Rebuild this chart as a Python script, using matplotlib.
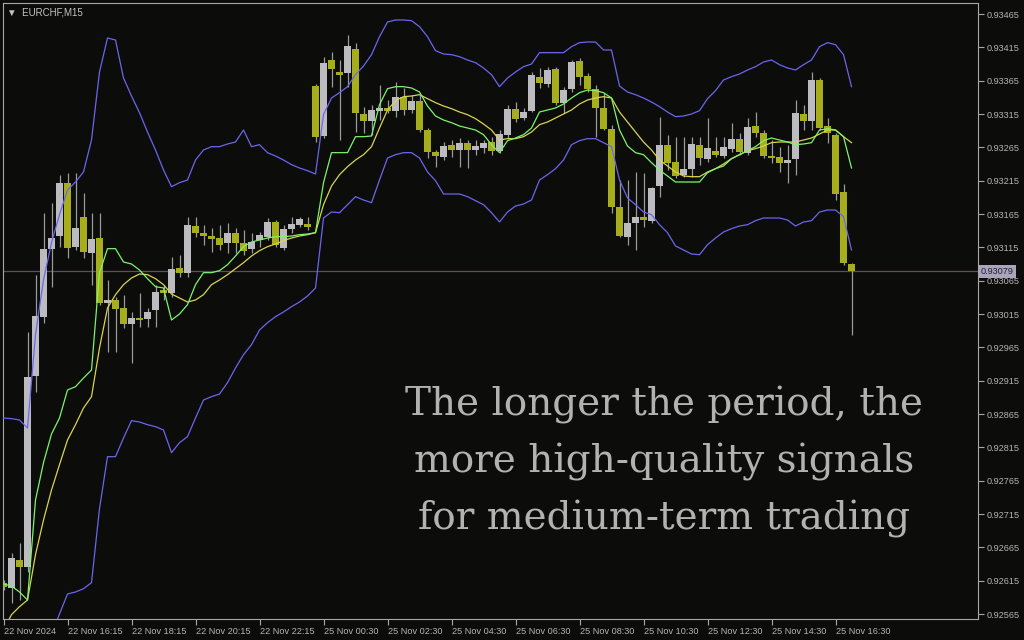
import matplotlib
matplotlib.use("Agg")
import matplotlib.pylab as plt
import matplotlib.transforms as mtransforms
import numpy as np

# EURCHF M15 candles (bar 0 = 22 Nov 14:15)
opens = [0.92612, 0.92604, 0.92646, 0.92636, 0.92922, 0.93011, 0.93113, 0.93132, 0.93212, 0.93116,
         0.93161, 0.93107, 0.93129, 0.93032, 0.93036, 0.93024, 0.93000, 0.93009, 0.93008, 0.93021,
         0.93051, 0.93047, 0.93084, 0.93077, 0.93147, 0.93137, 0.93132, 0.93129, 0.93122, 0.93137,
         0.93122, 0.93113, 0.93126, 0.93131, 0.93153, 0.93114, 0.93143, 0.93149, 0.93150, 0.93357,
         0.93282, 0.93396, 0.93378, 0.93377, 0.93413, 0.93315, 0.93305, 0.93320, 0.93324, 0.93320,
         0.93341, 0.93321, 0.93335, 0.93291, 0.93258, 0.93251, 0.93269, 0.93261, 0.93272, 0.93261,
         0.93264, 0.93273, 0.93260, 0.93284, 0.93323, 0.93309, 0.93320, 0.93371, 0.93360, 0.93383,
         0.93332, 0.93353, 0.93395, 0.93372, 0.93353, 0.93324, 0.93293, 0.93176, 0.93131, 0.93152,
         0.93161, 0.93155, 0.93207, 0.93269, 0.93243, 0.93224, 0.93233, 0.93269, 0.93248, 0.93260,
         0.93252, 0.93263, 0.93278, 0.93257, 0.93297, 0.93287, 0.93252, 0.93251, 0.93242, 0.93248,
         0.93315, 0.93305, 0.93366, 0.93297, 0.93284, 0.93198, 0.93090]
highs = [0.92616, 0.92657, 0.92672, 0.92988, 0.93074, 0.93167, 0.93182, 0.93224, 0.93227, 0.93227,
         0.93197, 0.93167, 0.93167, 0.93066, 0.93041, 0.93044, 0.93018, 0.93047, 0.93024, 0.93059,
         0.93059, 0.93101, 0.93104, 0.93161, 0.93161, 0.93149, 0.93144, 0.93149, 0.93152, 0.93144,
         0.93141, 0.93137, 0.93138, 0.93159, 0.93156, 0.93149, 0.93161, 0.93161, 0.93161, 0.93360,
         0.93401, 0.93408, 0.93396, 0.93434, 0.93422, 0.93326, 0.93329, 0.93359, 0.93336, 0.93363,
         0.93354, 0.93344, 0.93344, 0.93294, 0.93261, 0.93273, 0.93276, 0.93279, 0.93276, 0.93276,
         0.93276, 0.93281, 0.93291, 0.93329, 0.93333, 0.93324, 0.93378, 0.93384, 0.93386, 0.93386,
         0.93356, 0.93396, 0.93399, 0.93377, 0.93359, 0.93347, 0.93299, 0.93216, 0.93216, 0.93228,
         0.93227, 0.93206, 0.93311, 0.93284, 0.93281, 0.93281, 0.93281, 0.93281, 0.93309, 0.93281,
         0.93281, 0.93302, 0.93287, 0.93309, 0.93318, 0.93291, 0.93276, 0.93266, 0.93269, 0.93336,
         0.93329, 0.93378, 0.93369, 0.93309, 0.93287, 0.93210, 0.93092]
lows = [0.92601, 0.92582, 0.92586, 0.92628, 0.92898, 0.93002, 0.93056, 0.93116, 0.93099, 0.93111,
        0.93099, 0.93059, 0.93029, 0.92958, 0.92958, 0.92994, 0.92942, 0.92996, 0.92996, 0.92996,
        0.93036, 0.93041, 0.93071, 0.93071, 0.93131, 0.93119, 0.93108, 0.93111, 0.93107, 0.93107,
        0.93104, 0.93107, 0.93116, 0.93126, 0.93116, 0.93111, 0.93137, 0.93146, 0.93141, 0.93273,
        0.93279, 0.93356, 0.93276, 0.93356, 0.93288, 0.93287, 0.93284, 0.93306, 0.93317, 0.93311,
        0.93314, 0.93317, 0.93288, 0.93249, 0.93236, 0.93246, 0.93251, 0.93236, 0.93234, 0.93254,
        0.93257, 0.93254, 0.93257, 0.93279, 0.93303, 0.93306, 0.93318, 0.93354, 0.93356, 0.93329,
        0.93317, 0.93348, 0.93359, 0.93348, 0.93281, 0.93291, 0.93167, 0.93131, 0.93119, 0.93111,
        0.93146, 0.93152, 0.93191, 0.93231, 0.93219, 0.93221, 0.93221, 0.93239, 0.93243, 0.93251,
        0.93249, 0.93258, 0.93254, 0.93254, 0.93281, 0.93249, 0.93242, 0.93228, 0.93212, 0.93224,
        0.93291, 0.93291, 0.93291, 0.93272, 0.93186, 0.93089, 0.92984]
closes = [0.92606, 0.92649, 0.92636, 0.92921, 0.93012, 0.93113, 0.93129, 0.93212, 0.93114, 0.93144,
          0.93108, 0.93128, 0.93032, 0.93036, 0.93023, 0.93000, 0.93009, 0.93006, 0.93018, 0.93048,
          0.93047, 0.93083, 0.93077, 0.93149, 0.93137, 0.93132, 0.93128, 0.93119, 0.93137, 0.93122,
          0.93110, 0.93123, 0.93134, 0.93153, 0.93119, 0.93143, 0.93150, 0.93158, 0.93146, 0.93281,
          0.93392, 0.93383, 0.93374, 0.93417, 0.93317, 0.93305, 0.93321, 0.93324, 0.93320, 0.93341,
          0.93321, 0.93335, 0.93291, 0.93258, 0.93252, 0.93267, 0.93261, 0.93272, 0.93261, 0.93267,
          0.93272, 0.93260, 0.93285, 0.93323, 0.93308, 0.93318, 0.93374, 0.93362, 0.93381, 0.93332,
          0.93351, 0.93393, 0.93371, 0.93353, 0.93324, 0.93293, 0.93176, 0.93132, 0.93152, 0.93161,
          0.93156, 0.93204, 0.93269, 0.93242, 0.93222, 0.93233, 0.93270, 0.93249, 0.93264, 0.93254,
          0.93266, 0.93278, 0.93258, 0.93296, 0.93287, 0.93252, 0.93249, 0.93242, 0.93246, 0.93317,
          0.93305, 0.93366, 0.93294, 0.93287, 0.93195, 0.93092, 0.93079]

# indicator lines, one value per bar
band_upper = [0.92859, 0.92858, 0.92856, 0.92844, 0.92984, 0.93066, 0.93122, 0.93164, 0.93201, 0.93213,
              0.93228, 0.93276, 0.93378, 0.93429, 0.93426, 0.93369, 0.93342, 0.93317, 0.93288, 0.93261,
              0.93231, 0.93206, 0.93212, 0.93216, 0.93246, 0.93261, 0.93266, 0.93266, 0.93270, 0.93273,
              0.93291, 0.93266, 0.93269, 0.93257, 0.93252, 0.93246, 0.93239, 0.93234, 0.93230, 0.93225,
              0.93314, 0.93339, 0.93347, 0.93356, 0.93374, 0.93387, 0.93404, 0.93431, 0.93453, 0.93456,
              0.93456, 0.93455, 0.93446, 0.93431, 0.93410, 0.93405, 0.93404, 0.93401, 0.93396, 0.93392,
              0.93384, 0.93374, 0.93356, 0.93369, 0.93378, 0.93386, 0.93390, 0.93407, 0.93407, 0.93407,
              0.93407, 0.93416, 0.93422, 0.93423, 0.93423, 0.93411, 0.93411, 0.93357, 0.93348, 0.93344,
              0.93339, 0.93333, 0.93326, 0.93318, 0.93311, 0.93312, 0.93315, 0.93320, 0.93338, 0.93350,
              0.93366, 0.93371, 0.93375, 0.93381, 0.93386, 0.93393, 0.93396, 0.93389, 0.93384, 0.93381,
              0.93389, 0.93396, 0.93416, 0.93422, 0.93419, 0.93404, 0.93356]
band_lower = [0.92436, 0.92444, 0.92451, 0.92466, 0.92481, 0.92504, 0.92535, 0.92565, 0.92595, 0.92598,
              0.92603, 0.92612, 0.92723, 0.92801, 0.92801, 0.92829, 0.92855, 0.92853, 0.92849, 0.92846,
              0.92841, 0.92807, 0.92822, 0.92831, 0.92859, 0.92886, 0.92891, 0.92895, 0.92912, 0.92934,
              0.92954, 0.92969, 0.92991, 0.93002, 0.93011, 0.93018, 0.93026, 0.93033, 0.93042, 0.93054,
              0.93159, 0.93168, 0.93167, 0.93179, 0.93191, 0.93186, 0.93182, 0.93216, 0.93249, 0.93254,
              0.93257, 0.93257, 0.93249, 0.93228, 0.93215, 0.93195, 0.93195, 0.93195, 0.93191, 0.93185,
              0.93179, 0.93167, 0.93153, 0.93168, 0.93177, 0.93180, 0.93186, 0.93216, 0.93224, 0.93233,
              0.93246, 0.93269, 0.93275, 0.93278, 0.93278, 0.93272, 0.93266, 0.93216, 0.93189, 0.93179,
              0.93168, 0.93164, 0.93149, 0.93137, 0.93117, 0.93111, 0.93105, 0.93104, 0.93119, 0.93129,
              0.93138, 0.93143, 0.93147, 0.93149, 0.93155, 0.93159, 0.93159, 0.93159, 0.93156, 0.93147,
              0.93153, 0.93155, 0.93168, 0.93171, 0.93171, 0.93161, 0.93111]
ma_fast = [0.92610, 0.92607, 0.92598, 0.92586, 0.92736, 0.92792, 0.92835, 0.92859, 0.92901, 0.92906,
           0.92919, 0.92931, 0.93077, 0.93113, 0.93113, 0.93093, 0.93090, 0.93081, 0.93068, 0.93056,
           0.93054, 0.93006, 0.93015, 0.93029, 0.93059, 0.93077, 0.93077, 0.93080, 0.93089, 0.93102,
           0.93116, 0.93123, 0.93126, 0.93129, 0.93131, 0.93131, 0.93132, 0.93134, 0.93135, 0.93137,
           0.93212, 0.93257, 0.93257, 0.93257, 0.93281, 0.93281, 0.93282, 0.93329, 0.93353, 0.93356,
           0.93356, 0.93354, 0.93348, 0.93327, 0.93312, 0.93306, 0.93302, 0.93297, 0.93294, 0.93291,
           0.93284, 0.93269, 0.93257, 0.93275, 0.93279, 0.93284, 0.93294, 0.93318, 0.93321, 0.93324,
           0.93330, 0.93339, 0.93347, 0.93351, 0.93350, 0.93347, 0.93339, 0.93291, 0.93267, 0.93257,
           0.93254, 0.93242, 0.93231, 0.93222, 0.93213, 0.93213, 0.93213, 0.93213, 0.93227, 0.93233,
           0.93237, 0.93248, 0.93254, 0.93260, 0.93266, 0.93275, 0.93279, 0.93276, 0.93273, 0.93269,
           0.93270, 0.93272, 0.93291, 0.93293, 0.93291, 0.93281, 0.93234]
ma_slow = [0.92541, 0.92564, 0.92576, 0.92586, 0.92654, 0.92706, 0.92751, 0.92789, 0.92826, 0.92849,
           0.92874, 0.92891, 0.92964, 0.93024, 0.93044, 0.93059, 0.93069, 0.93075, 0.93074, 0.93068,
           0.93059, 0.93045, 0.93039, 0.93033, 0.93036, 0.93044, 0.93059, 0.93066, 0.93074, 0.93083,
           0.93092, 0.93102, 0.93110, 0.93116, 0.93120, 0.93125, 0.93129, 0.93132, 0.93134, 0.93137,
           0.93179, 0.93207, 0.93224, 0.93236, 0.93246, 0.93254, 0.93266, 0.93294, 0.93321, 0.93335,
           0.93341, 0.93342, 0.93344, 0.93338, 0.93332, 0.93327, 0.93323, 0.93318, 0.93314, 0.93308,
           0.93300, 0.93291, 0.93276, 0.93278, 0.93278, 0.93281, 0.93288, 0.93299, 0.93303, 0.93309,
           0.93315, 0.93321, 0.93330, 0.93336, 0.93339, 0.93341, 0.93339, 0.93318, 0.93303, 0.93288,
           0.93273, 0.93261, 0.93246, 0.93237, 0.93228, 0.93222, 0.93221, 0.93221, 0.93228, 0.93233,
           0.93240, 0.93248, 0.93254, 0.93260, 0.93263, 0.93267, 0.93272, 0.93273, 0.93273, 0.93273,
           0.93276, 0.93279, 0.93285, 0.93291, 0.93291, 0.93281, 0.93272]

time_labels = ["22 Nov 2024", "22 Nov 16:15", "22 Nov 18:15", "22 Nov 20:15", "22 Nov 22:15",
               "25 Nov 00:30", "25 Nov 02:30", "25 Nov 04:30", "25 Nov 06:30", "25 Nov 08:30",
               "25 Nov 10:30", "25 Nov 12:30", "25 Nov 14:30", "25 Nov 16:30"]
symbol = "EURCHF,M15"
caption = "The longer the period, the\nmore high-quality signals\nfor medium-term trading"

bg = "#0c0c0a"
frame = "#a8a8a8"
txt = "#b4b4b4"
bull = "#bcbcc0"
bear = "#a6ae1e"

small = ["Liberation Sans", "DejaVu Sans"]

fig = plt.figure(figsize=(10.24, 6.4), dpi=100, facecolor=bg)
ax = fig.add_axes([3 / 1024, 21 / 640, 975 / 1024, 616 / 640])
ax.set_facecolor(bg)

o = np.array(opens)
h = np.array(highs)
l = np.array(lows)
c = np.array(closes)
x = np.arange(len(o))
up = c >= o

# wicks then bodies
ax.vlines(x, l, h, color="#9a9a9a", linewidth=0.9, zorder=2)
body_lo = np.minimum(o, c)
body_h = np.maximum(np.abs(c - o), 0.000012)
ax.bar(x[up], body_h[up], bottom=body_lo[up], width=0.8, color=bull, linewidth=0, zorder=3)
ax.bar(x[~up], body_h[~up], bottom=body_lo[~up], width=0.8, color=bear, linewidth=0, zorder=3)

# bollinger bands and moving averages
ax.plot(x, band_upper, color="#6a66ee", linewidth=0.9, zorder=4)
ax.plot(x, band_lower, color="#6a66ee", linewidth=0.9, zorder=4)
ax.plot(x, ma_slow, color="#d8d452", linewidth=0.9, zorder=5)
ax.plot(x, ma_fast, color="#7cf46a", linewidth=0.9, zorder=5)

# last price line
last = closes[-1]
ax.axhline(last, color="#5e4c60", linewidth=0.9, zorder=1)

ax.set_xlim(-0.0625, 121.81)
ax.set_ylim(0.925575, 0.934815)

for s in ax.spines.values():
    s.set_color(frame)
    s.set_linewidth(0.8)

yt = np.arange(0.92565, 0.93466, 0.0005)
ax.yaxis.tick_right()
ax.set_yticks(yt)
ax.set_yticklabels(["%.5f" % v for v in yt], family=small)
ax.set_xticks(x[::8][:len(time_labels)])
ax.set_xticklabels(time_labels, family=small, ha="left")
ax.tick_params(axis="both", colors=frame, labelcolor=txt, labelsize=6.6, length=4, width=0.8, direction="out")
ax.tick_params(axis="y", pad=2.5)
ax.tick_params(axis="x", pad=1.5)

# price tag on the right
trans = mtransforms.blended_transform_factory(ax.transAxes, ax.transData)
ax.text(1.003, last, "%.5f" % last, transform=trans, ha="left", va="center", fontsize=6.6,
        family=small, color="#22222e", clip_on=False, zorder=10,
        bbox=dict(boxstyle="square,pad=0.2", facecolor="#aaa4bc", edgecolor="none"))

ax.text(0.004, 0.985, "\u25bc  " + symbol, transform=ax.transAxes, ha="left", va="center",
        fontsize=7, family=small, color="#c4c4c4")

fig.text(664 / 1024, 1 - 462 / 640, caption, ha="center", va="center", fontsize=28,
         family="DejaVu Serif", color="#b2b2b2", linespacing=1.66)

fig.savefig("out.png", dpi=100, facecolor=bg)
